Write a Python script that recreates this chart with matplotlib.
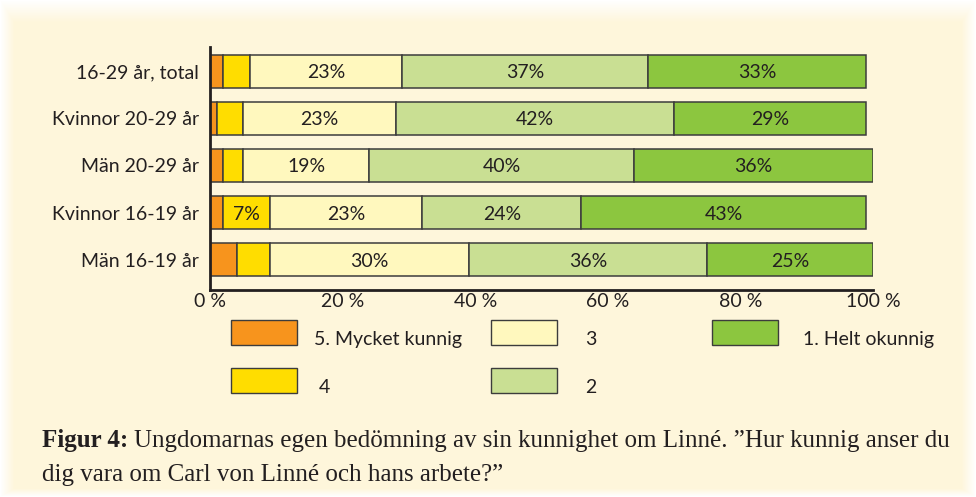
import numpy as np
import matplotlib.pyplot as plt
from matplotlib.patches import Rectangle

# data (percent), top row first
groups = ['16-29 år, total', 'Kvinnor 20-29 år', 'Män 20-29 år',
          'Kvinnor 16-19 år', 'Män 16-19 år']
mycket_kunnig = [2, 1, 2, 2, 4]    # 5. Mycket kunnig
level4 = [4, 4, 3, 7, 5]           # 4
level3 = [23, 23, 19, 23, 30]      # 3
level2 = [37, 42, 40, 24, 36]      # 2
helt_okunnig = [33, 29, 36, 43, 25]  # 1. Helt okunnig
series_names = ['5. Mycket kunnig', '4', '3', '2', '1. Helt okunnig']
ticks = [0, 20, 40, 60, 80, 100]

colors = ['#F7941D', '#FFDD00', '#FFF8BE', '#C9DF93', '#8CC63F']
bg = '#FEF6DB'
edge = '#3C3C3C'
txt = '#231F20'
sans = 'Lato'
fs = 14

W, H = 976, 497
fig = plt.figure(figsize=(W / 100, H / 100), dpi=100)

# background with soft white fade along the edges
bgax = fig.add_axes([0, 0, 1, 1], zorder=-10)
yy, xx = np.mgrid[0:H, 0:W]
fade = np.minimum.reduce([np.clip(yy / 22.0, 0, 1),
                          np.clip(xx / 14.0, 0, 1),
                          np.clip((W - 1 - xx) / 14.0, 0, 1),
                          np.clip((H - 1 - yy) / 8.0, 0, 1)])
c = np.array(plt.matplotlib.colors.to_rgb(bg))
img = 1 - (1 - c)[None, None, :] * fade[:, :, None]
bgax.imshow(img, extent=(0, 1, 0, 1), aspect='auto', origin='upper')
bgax.axis('off')

ax = fig.add_axes([210 / W, 1 - 290 / H, 663 / W, 243 / H])
ax.patch.set_alpha(0)

data = [mycket_kunnig, level4, level3, level2, helt_okunnig]
ypos = np.arange(len(groups))[::-1]
left = np.zeros(len(groups))
for vals, col in zip(data, colors):
    vals = np.array(vals, dtype=float)
    bars = ax.barh(ypos, vals, left=left, height=0.7, color=col,
                   edgecolor=edge, linewidth=1.1)
    for b, v in zip(bars, vals):
        if v >= 7:
            ax.text(b.get_x() + b.get_width() / 2, b.get_y() + b.get_height() / 2,
                    f'{int(v)}%', ha='center', va='center_baseline', fontsize=fs,
                    color=txt, family=sans)
    left += vals

ax.set_xlim(0, 100)
ax.set_ylim(-0.64, 4.51)
ax.set_yticks(ypos)
ax.set_yticklabels(groups, fontsize=fs, family=sans, color=txt)
ax.set_xticks(ticks)
ax.set_xticklabels([f'{t} %' for t in ticks], fontsize=fs, family=sans, color=txt)
ax.tick_params(length=0, pad=2)
ax.tick_params(axis='y', pad=8)
for s in ['top', 'right']:
    ax.spines[s].set_visible(False)
for s in ['left', 'bottom']:
    ax.spines[s].set_linewidth(2)
    ax.spines[s].set_color(txt)

# legend drawn by hand
legend_pos = [(231, 320), (231, 368), (491, 320), (491, 368), (712, 320)]
text_x = [314, 319, 585, 585, 803]
for (px, py), tx, name, col in zip(legend_pos, text_x, series_names, colors):
    fig.patches.append(Rectangle((px / W, 1 - (py + 25) / H), 66 / W, 25 / H,
                                 transform=fig.transFigure, facecolor=col,
                                 edgecolor=edge, linewidth=1))
    fig.text(tx / W, 1 - (py + 18) / H, name, fontsize=fs, family=sans,
             color=txt, va='center_baseline', ha='left')

# caption
cfs = 18
cap_y1 = 1 - 447 / H
t1 = fig.text(42 / W, cap_y1, 'Figur 4:', fontsize=cfs, family='Liberation Serif',
              weight='bold', color=txt, va='baseline')
fig.canvas.draw()
x1 = t1.get_window_extent().x1 / W
fig.text(x1 + 6 / W, cap_y1,
         'Ungdomarnas egen bedömning av sin kunnighet om Linné. ”Hur kunnig anser du',
         fontsize=cfs, family='Liberation Serif', color=txt, va='baseline')
fig.text(42 / W, 1 - 481 / H, 'dig vara om Carl von Linné och hans arbete?”',
         fontsize=cfs, family='Liberation Serif', color=txt, va='baseline')

fig.savefig('out.png', dpi=100, facecolor=bg)
